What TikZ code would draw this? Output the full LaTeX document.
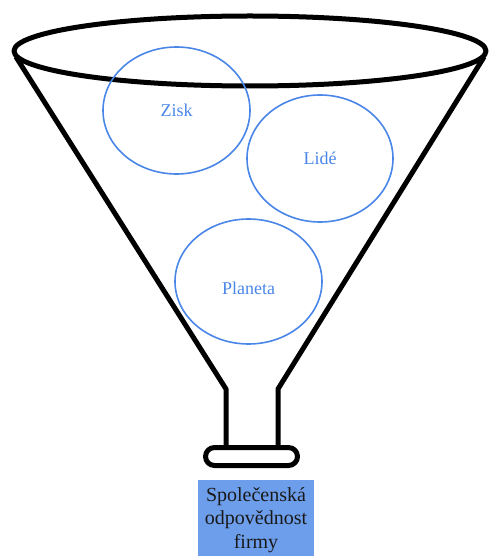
\documentclass[tikz,border=0pt]{standalone}
\usepackage{fontspec}
\setmainfont{Liberation Serif}
\usepackage{xcolor}
\usepackage{tikz}
\usetikzlibrary{shapes.geometric,positioning}

\definecolor{ringblue}{RGB}{74,134,232}
\definecolor{boxblue}{RGB}{109,158,235}

\begin{document}
\begin{tikzpicture}[
    x=1pt, y=-1pt,
    funnel/.style={draw, line width=5pt, line join=round},
    ring/.style={draw=ringblue, ellipse, line width=1.6pt, inner sep=0pt},
    ringtext/.style={text=ringblue, font=\fontsize{18}{21}\selectfont, inner sep=0pt},
    resultbox/.style={fill=boxblue, minimum width=116pt, minimum height=80pt, align=center, inner sep=0pt, font=\fontsize{20}{23.5}\selectfont}
]
\useasboundingbox (0,0) rectangle (489,556);

% funnel
\draw[funnel] (250,51) ellipse [x radius=236, y radius=35];
\draw[funnel] (16,57) -- (226,389) -- (226,447);
\draw[funnel] (484,57) -- (278,389) -- (278,447);
\draw[funnel, rounded corners=9pt] (205.5,447.5) rectangle (297.5,465.5);

% three pillars
\node[ring, minimum width=147pt, minimum height=127pt] (zisk) at (176.5,110.5) {};
\node[ring, minimum width=146pt, minimum height=127pt] (lide) at (320,158.5) {};
\node[ring, minimum width=147pt, minimum height=125pt] (planeta) at (248.5,281.5) {};
\node[ringtext] (ziskt) at (zisk) {Zisk};
\node[ringtext] (lidet) at (lide) {Lidé};
\node[ringtext, yshift=-7pt] (planetat) at (planeta) {Planeta};

% result
\node[resultbox, text=black!90] (csr) at (256,520) {Společenská\\odpovědnost\\firmy};
\end{tikzpicture}
\end{document}
